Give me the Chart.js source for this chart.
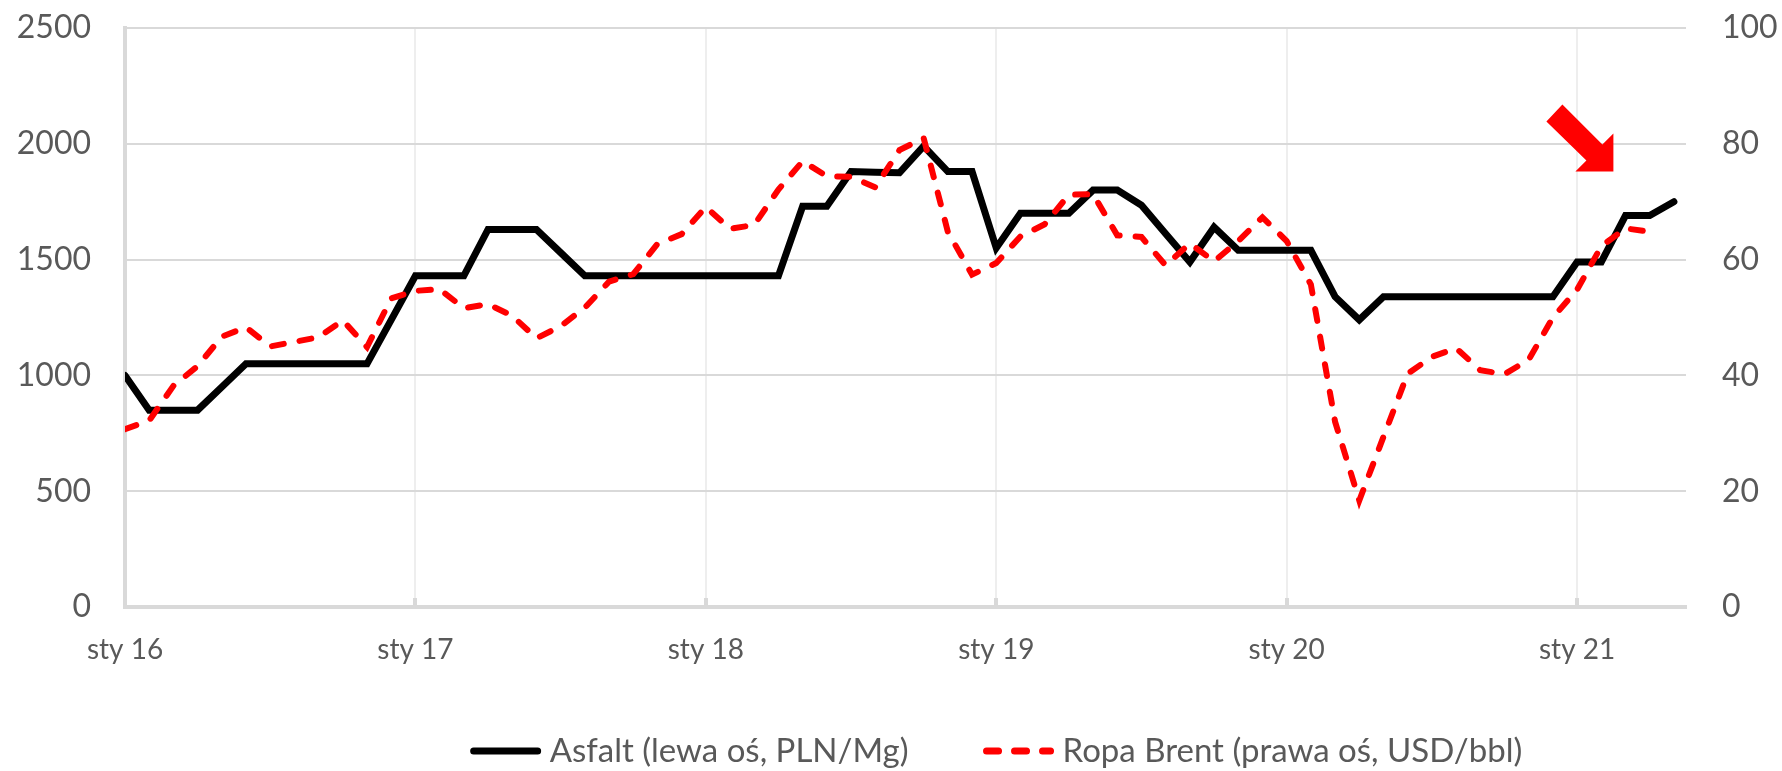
<!DOCTYPE html>
<html lang="pl">
<head>
<meta charset="utf-8">
<title>Asfalt i ropa Brent</title>
<script src="https://cdn.jsdelivr.net/npm/chart.js@4.4.1/dist/chart.umd.min.js"></script>
<style>
  html, body { margin: 0; padding: 0; background: #fff; }
</style>
</head>
<body>
<canvas id="chart" width="1782" height="771"></canvas>
<script>
// monthly data, index 0 = styczeń 2016
const asfalt = [
  1000, 850, 850, 850, 950, 1050, 1050, 1050, 1050, 1050, 1050, 1240,
  1430, 1430, 1430, 1630, 1630, 1630, 1530, 1430, 1430, 1430, 1430, 1430,
  1430, 1430, 1430, 1430, 1730, 1730, 1880, 1877, 1875, 1990, 1880, 1880,
  1550, 1700, 1700, 1700, 1800, 1800, 1735, 1612, 1490, 1640, 1540, 1540,
  1540, 1540, 1340, 1240, 1340, 1340, 1340, 1340, 1340, 1340, 1340, 1340,
  1490, 1490, 1690, 1690, 1750
];
const brent = [
  30.7, 32.2, 38.2, 41.6, 46.7, 48.3, 45.0, 45.8, 46.6, 49.5, 44.9, 53.3,
  54.6, 54.9, 51.6, 52.3, 50.3, 46.4, 48.5, 51.7, 56.2, 57.5, 62.7, 64.4,
  69.1, 65.3, 66.0, 72.1, 77.0, 74.4, 74.3, 72.5, 78.9, 81.0, 64.8, 57.4,
  59.4, 64.0, 66.1, 71.2, 71.3, 64.2, 63.9, 59.0, 62.8, 59.7, 63.2, 67.3,
  63.2, 55.7, 32.0, 18.4, 29.4, 40.3, 43.2, 44.7, 40.9, 40.2, 42.7, 50.0,
  54.8, 62.3, 65.4, 64.8
];
const yearLabels = ['sty 16', 'sty 17', 'sty 18', 'sty 19', 'sty 20', 'sty 21'];
const seriesNames = ['Asfalt (lewa oś, PLN/Mg)', 'Ropa Brent (prawa oś, USD/bbl)'];

const TEXT = '#595959';
const GRID = '#d9d9d9';
const FONT = 'Lato, "Open Sans", sans-serif';
const ARROW_AT = { month: 61.5, value: 1880 };   // arrow tip, in left-axis units

const toPoints = arr => arr.map((v, i) => ({ x: i, y: v }));

// fixed axis box size; drop the tick-padding Chart.js adds above/below the plot
const fixWidth = w => s => { s.width = w; s.paddingTop = 0; s.paddingBottom = 0; };

// Excel-ish extras: inner tick stubs, the red arrow and the legend
const extras = {
  id: 'extras',
  beforeDatasetsDraw(chart) {
    const { ctx, chartArea, scales: { x } } = chart;
    ctx.save();
    ctx.strokeStyle = GRID;
    ctx.lineWidth = 4;
    x.ticks.forEach(t => {
      const px = Math.round(x.getPixelForValue(t.value));
      ctx.beginPath();
      ctx.moveTo(px, chartArea.bottom);
      ctx.lineTo(px, chartArea.bottom - 9);
      ctx.stroke();
    });
    ctx.restore();
  },
  afterDraw(chart) {
    const { ctx, scales } = chart;
    // block arrow pointing down-right
    const tx = scales.x.getPixelForValue(ARROW_AT.month);
    const ty = scales.y.getPixelForValue(ARROW_AT.value);
    const shape = [[-67, -50], [-51, -67], [-11, -27], [0, -38], [0, 0], [-38, 0], [-27, -11]];
    ctx.save();
    ctx.fillStyle = '#ff0000';
    ctx.beginPath();
    shape.forEach(([dx, dy], i) => i ? ctx.lineTo(tx + dx, ty + dy) : ctx.moveTo(tx + dx, ty + dy));
    ctx.closePath();
    ctx.fill();

    // legend, drawn by hand so the dashed sample matches the series
    const order = [1, 0];  // dataset indexes in legend order
    ctx.font = '33px ' + FONT;
    ctx.textBaseline = 'middle';
    const sample = 72, gapText = 8, gapItem = 74;
    const widths = order.map(i => ctx.measureText(chart.data.datasets[i].label).width);
    const total = widths.reduce((a, w) => a + sample + gapText + w, 0) + gapItem;
    let lx = 996 - total / 2;
    const ly = 751;
    order.forEach((i, k) => {
      const ds = chart.data.datasets[i];
      ctx.strokeStyle = ds.borderColor;
      ctx.lineWidth = 7;
      ctx.lineCap = 'round';
      ctx.setLineDash(ds.borderDash || []);
      ctx.beginPath();
      ctx.moveTo(lx + 4, ly);
      ctx.lineTo(lx + sample - 4, ly);
      ctx.stroke();
      ctx.setLineDash([]);
      ctx.fillStyle = TEXT;
      ctx.fillText(ds.label, lx + sample + gapText, ly);
      lx += sample + gapText + widths[k] + gapItem;
    });
    ctx.restore();
  }
};

new Chart(document.getElementById('chart'), {
  type: 'line',
  data: {
    datasets: [
      {
        label: seriesNames[1], data: toPoints(brent), yAxisID: 'y1', order: 1,
        borderColor: '#ff0000', borderWidth: 6, borderDash: [12, 16], borderCapStyle: 'round',
        pointRadius: 0, tension: 0, fill: false
      },
      {
        label: seriesNames[0], data: toPoints(asfalt), yAxisID: 'y', order: 2,
        borderColor: '#000000', borderWidth: 7, borderCapStyle: 'round',
        pointRadius: 0, tension: 0, fill: false
      }
    ]
  },
  options: {
    responsive: false,
    devicePixelRatio: 1,
    animation: false,
    layout: { padding: { top: 28, left: 0, right: 0, bottom: 0 } },
    plugins: { legend: { display: false }, tooltip: { enabled: false } },
    scales: {
      x: {
        type: 'linear', min: 0, max: 64.5,
        afterFit: s => { s.height = 164; },
        grid: { color: '#eeeeee', lineWidth: 2, drawTicks: false },
        border: { color: GRID, width: 4 },
        ticks: {
          stepSize: 12, includeBounds: false, padding: 26, maxRotation: 0,
          color: TEXT, font: { family: FONT, size: 28 },
          callback: v => yearLabels[v / 12] || ''
        }
      },
      y: {
        position: 'left', min: 0, max: 2500,
        afterFit: fixWidth(125),
        grid: { color: GRID, lineWidth: 2, drawTicks: false },
        border: { color: GRID, width: 4 },
        ticks: { stepSize: 500, padding: 34, color: TEXT, font: { family: FONT, size: 32 }, callback: v => String(v) }
      },
      y1: {
        position: 'right', min: 0, max: 100,
        afterFit: fixWidth(96),
        grid: { display: false, drawTicks: false },
        border: { display: false },
        ticks: { stepSize: 20, padding: 36, color: TEXT, font: { family: FONT, size: 32 }, callback: v => String(v) }
      }
    }
  },
  plugins: [extras]
});
</script>
</body>
</html>
